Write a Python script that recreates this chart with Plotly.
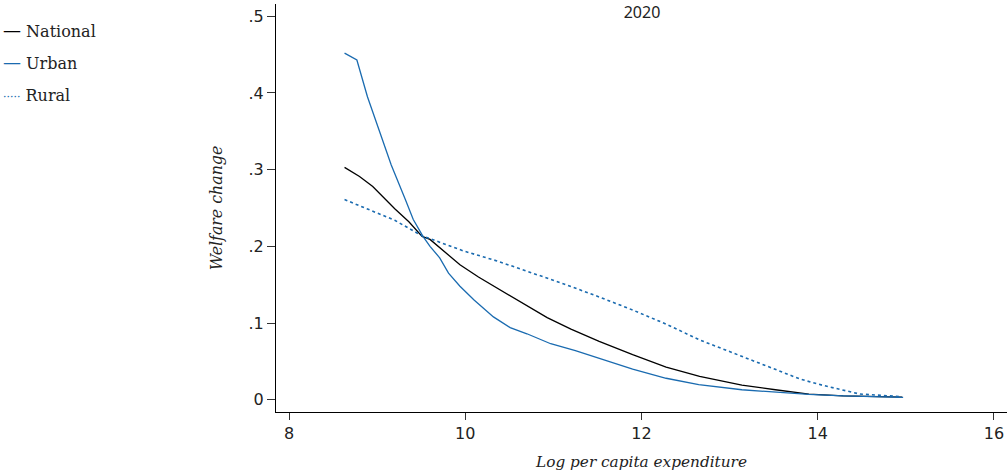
import plotly.graph_objects as go

# ---- data ----
national_x = [8.63, 8.80, 8.95, 9.08, 9.2, 9.36, 9.51, 9.60, 9.85, 9.94, 10.15, 10.36, 10.65, 10.93,
              11.2, 11.52, 11.90, 12.28, 12.66, 12.81, 13.14, 13.52, 13.9, 14.29, 14.6, 14.96]
national_y = [0.303, 0.291, 0.278, 0.263, 0.249, 0.232, 0.213, 0.209, 0.185, 0.176, 0.160, 0.146,
              0.126, 0.107, 0.092, 0.076, 0.0587, 0.0426, 0.0304, 0.027, 0.019, 0.013, 0.0074,
              0.005, 0.004, 0.0035]

urban_x = [8.63, 8.77, 8.89, 9.02, 9.16, 9.32, 9.41, 9.52, 9.60, 9.71, 9.81, 9.94, 10.1, 10.32,
           10.51, 10.7, 10.97, 11.25, 11.52, 11.90, 12.28, 12.65, 13.14, 13.52, 13.9, 14.29,
           14.6, 14.97]
urban_y = [0.452, 0.443, 0.395, 0.352, 0.306, 0.261, 0.235, 0.213, 0.200, 0.185, 0.165, 0.148,
           0.130, 0.108, 0.094, 0.086, 0.073, 0.064, 0.054, 0.040, 0.028, 0.0196, 0.013,
           0.0096, 0.007, 0.005, 0.004, 0.003]

rural_x = [8.63, 8.9, 9.2, 9.52, 9.60, 9.98, 10.36, 10.74, 11.12, 11.52, 11.90, 12.28, 12.66,
           13.04, 13.42, 13.80, 14.05, 14.29, 14.48, 14.82, 14.95]
rural_y = [0.261, 0.248, 0.234, 0.213, 0.210, 0.194, 0.181, 0.166, 0.151, 0.134, 0.117, 0.0986,
           0.078, 0.061, 0.044, 0.027, 0.019, 0.013, 0.0074, 0.005, 0.004]

x_ticks = [8, 10, 12, 14, 16]
y_ticks = [0, 0.1, 0.2, 0.3, 0.4, 0.5]
y_tick_text = ["0", ".1", ".2", ".3", ".4", ".5"]

series_names = ["National", "Urban", "Rural"]
BLUE = "#1a6bb0"
TICK_FONT = dict(family="DejaVu Sans", size=16, color="#222222")
SERIF = "DejaVu Serif"

fig = go.Figure()
fig.add_trace(go.Scatter(x=national_x, y=national_y, mode="lines", name=series_names[0],
                         line=dict(color="black", width=1.3), showlegend=False))
fig.add_trace(go.Scatter(x=urban_x, y=urban_y, mode="lines", name=series_names[1],
                         line=dict(color=BLUE, width=1.3), showlegend=False))
fig.add_trace(go.Scatter(x=rural_x, y=rural_y, mode="lines", name=series_names[2],
                         line=dict(color=BLUE, width=1.6, dash="dot"), showlegend=False))

# legend drawn as text annotations (matches the compact Stata-style key)
legend_keys = [
    '<span style="color:black;font-size:18px">—</span> ' + series_names[0],
    '<span style="color:%s;font-size:18px">—</span> ' % BLUE + series_names[1],
    '<span style="color:%s;font-size:11px">·····</span> ' % BLUE + series_names[2],
]
legend_y = [30, 62, 95]
for txt, yy in zip(legend_keys, legend_y):
    fig.add_annotation(text=txt, xref="paper", yref="paper",
                       x=(1 - 276) / 731, xanchor="left",
                       y=(412 - yy) / 408, yanchor="middle",
                       showarrow=False,
                       font=dict(family=SERIF, size=16, color="#222222"))

fig.update_layout(
    width=1007, height=475,
    margin=dict(l=276, r=0, t=4, b=63),
    paper_bgcolor="white", plot_bgcolor="white",
    title=dict(text="2020", x=(642) / 1007, xanchor="center", y=1 - 12 / 475, yanchor="middle",
               font=dict(family="Noto Sans", size=16, color="#222222")),
    xaxis=dict(range=[7.852, 16.149], tickvals=x_ticks, ticktext=[str(v) for v in x_ticks],
               showline=True, linecolor="black", linewidth=1.3, ticks="outside", ticklen=7,
               tickcolor="#333333", tickwidth=1.3, showgrid=False, zeroline=False,
               tickfont=TICK_FONT,
               title=dict(text="<i>Log per capita expenditure</i>", standoff=13,
                          font=dict(family=SERIF, size=15.3, color="#222222"))),
    yaxis=dict(range=[-0.016, 0.516], tickvals=y_ticks, ticktext=y_tick_text,
               showline=True, linecolor="black", linewidth=1.3, ticks="outside", ticklen=8,
               tickcolor="#333333", tickwidth=1.3, showgrid=False, zeroline=False,
               tickfont=TICK_FONT,
               title=dict(text="<i>Welfare change</i>", standoff=21,
                          font=dict(family=SERIF, size=15.8, color="#222222"))),
)

fig.write_html("out.html")
